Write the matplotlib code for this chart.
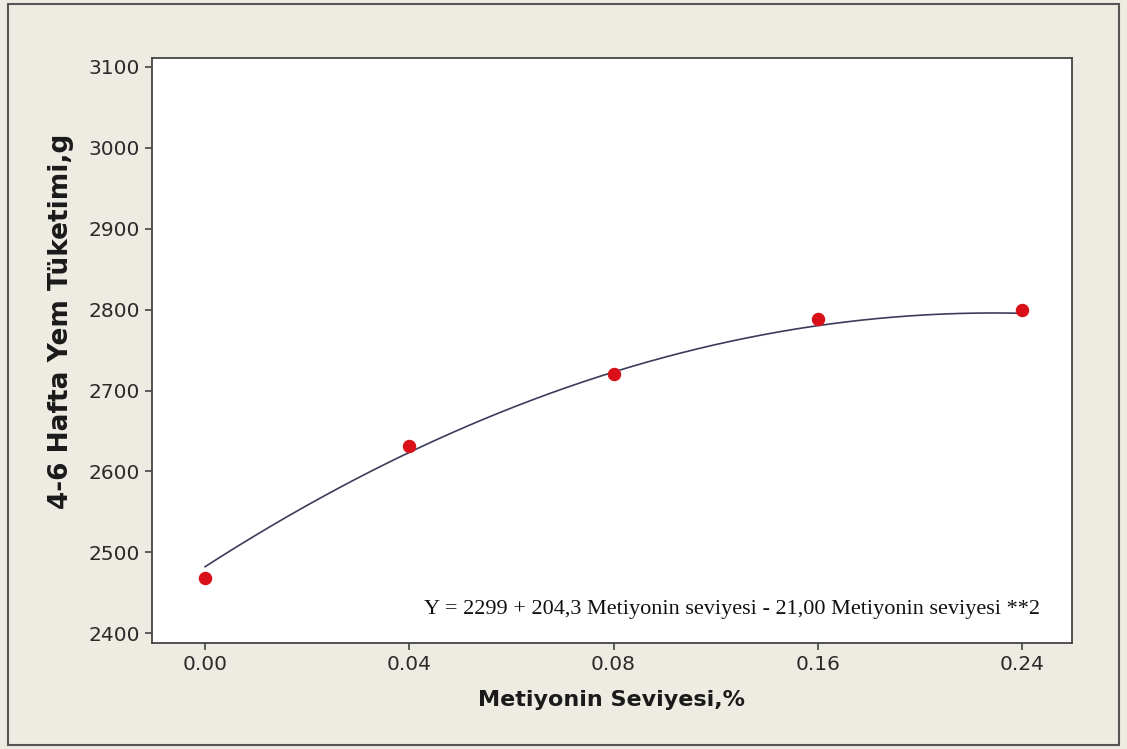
import numpy as np
import matplotlib.pyplot as plt
from matplotlib.patches import Rectangle

# data
levels = ['0.00', '0.04', '0.08', '0.16', '0.24']
feed = [2468, 2631, 2721, 2789, 2799]
# fitted quadratic from the annotation: Y = b0 + b1*x + b2*x^2 (x = level index 1..5)
coef = [2299, 204.3, -21.00]
eq_text = 'Y = 2299 + 204,3 Metiyonin seviyesi - 21,00 Metiyonin seviyesi **2'

fig = plt.figure(figsize=(11.27, 7.49), dpi=100, facecolor='#eeebe2')
ax = fig.add_axes([152 / 1127, 1 - 643 / 749, 920 / 1127, 585 / 749])
ax.set_facecolor('white')

pos = np.arange(1, len(levels) + 1)
xs = np.linspace(1, len(levels), 200)
ys = coef[0] + coef[1] * xs + coef[2] * xs ** 2
ax.plot(xs, ys, color='#3c3c5a', lw=1.2, zorder=2)
ax.scatter(pos, feed, s=75, color='#d9101a', zorder=3)

ax.set_xlim(0.74, 5.245)
ax.set_ylim(2388, 3111)
ax.set_xticks(pos)
ax.set_xticklabels(levels)
ax.set_yticks(np.arange(2400, 3101, 100))
ax.tick_params(direction='out', length=5, width=1.2, color='#444444',
               labelsize=14.5, labelcolor='#2a2a2a')
for s in ax.spines.values():
    s.set_color('#444444')
    s.set_linewidth(1.3)

ax.set_xlabel('Metiyonin Seviyesi,%', fontsize=16, fontweight='bold',
              labelpad=12, color='#1a1a1a')
ax.set_ylabel('4-6 Hafta Yem Tüketimi,g', fontsize=19, fontweight='bold',
              color='#1a1a1a')
ax.yaxis.set_label_coords(-0.085, 0.55)

ax.text(0.965, 0.05, eq_text, transform=ax.transAxes, ha='right', va='baseline',
        fontsize=16, family='Liberation Serif', color='#111111')

# outer frame
fig.patches.append(Rectangle((8 / 1127, 4 / 749), 1111 / 1127, 741 / 749,
                             transform=fig.transFigure, fill=False,
                             edgecolor='#555555', lw=1.5))

fig.savefig('out.png', dpi=100, facecolor=fig.get_facecolor())
